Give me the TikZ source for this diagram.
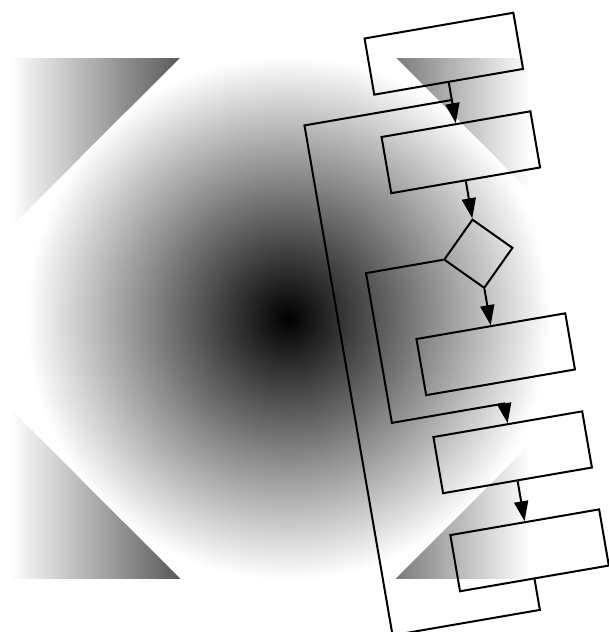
\documentclass[tikz,border=0pt]{standalone}
\usepackage{tikz}
\usetikzlibrary{arrows.meta, shapes.geometric}
\tikzset{
  stage/.style    = {rectangle, draw, line width=2pt, minimum width=151pt,
                     minimum height=57pt, inner sep=0pt},
  test/.style     = {diamond, draw, line width=2pt, aspect=1, minimum size=70pt,
                     inner sep=0pt},
  flow/.style     = {line width=2pt, -{Triangle[length=20pt, width=14pt]}},
  backline/.style = {line width=2pt},
}

\begin{document}
\begin{tikzpicture}[x=1pt, y=-1pt]
  \useasboundingbox (0,0) rectangle (608,632);
  % ---- backdrop: square with a band, diamond with a glow
  \shade[left color=white, right color=white, middle color=black] (10,58) rectangle (530,578);
  \fill[white] (288,-50) -- (656,318) -- (288,686) -- (-80,318) -- cycle;
  \begin{scope}
    \clip (288,-50) -- (656,318) -- (288,686) -- (-80,318) -- cycle;
    \shade[inner color=black, outer color=white] (288,318) circle (262);
  \end{scope}
  % ---- tilted flow chart
  \begin{scope}[shift={(443.8,53.7)}, rotate=9.8, transform shape]
    \node[stage] (n1) at (0,0) {};
    \node[stage] (n2) at (0,100) {};
    \node[test] (q) at (0,203) {};
    \node[stage] (n3) at (0,305) {};
    \node[stage] (n4) at (0,404.5) {};
    \node[stage] (n5) at (0,504) {};
    \coordinate (m1) at (0,47);
    \coordinate (m2) at (0,355);
    \draw[flow] (n1) -- (n2);
    \draw[flow] (n2) -- (q);
    \draw[flow] (q) -- (n3);
    \draw[flow] (n4) -- (n5);
    % no branch: around box 3
    \draw[flow] (q.west) -- ++(-78,0) -- ++(0,152) -- (m2) -- (n4);
    % back to the top
    \draw[backline] (n5.south) -- ++(0,31) -- ++(-149.5,0) -- ++(0,-517.5) -- (m1);
  \end{scope}
\end{tikzpicture}
\end{document}
